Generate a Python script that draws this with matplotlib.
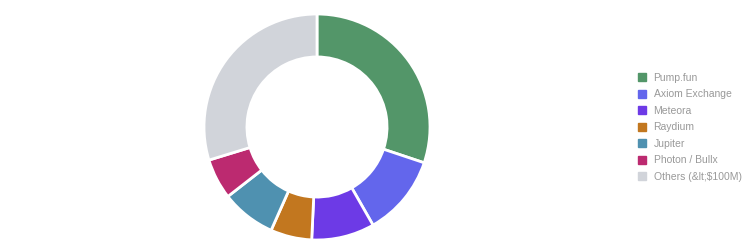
import matplotlib
matplotlib.use("Agg")
import matplotlib.pyplot as plt
from matplotlib.lines import Line2D

labels = ["Pump.fun", "Axiom Exchange", "Meteora", "Raydium", "Jupiter",
          "Photon / Bullx", "Others (&lt;$100M)"]
shares = [30.1, 11.6, 9.0, 5.9, 7.8, 5.8, 29.7]
colors = ["#539669", "#6366ec", "#6d3ae6", "#c2771f", "#4f91b0", "#bc2a70", "#d1d4da"]

plt.rcParams["font.family"] = ["Liberation Sans", "DejaVu Sans"]

fig = plt.figure(figsize=(7.52, 2.45), dpi=100)
cx, cy, r = 317, 245 - 127, 113
ax = fig.add_axes([(cx - r) / 752, (cy - r) / 245, 2 * r / 752, 2 * r / 245])
ax.pie(shares, colors=colors, startangle=90, counterclock=False, radius=1.0,
       wedgeprops=dict(width=0.38, edgecolor="white", linewidth=2))
ax.set_xlim(-1.0, 1.0)
ax.set_ylim(-1.0, 1.0)
ax.set_aspect("equal")
ax.axis("off")

handles = [Line2D([0], [0], marker="s", linestyle="", markersize=6,
                  markerfacecolor=c, markeredgecolor=c) for c in colors]
fig.legend(handles, labels, loc="upper left", bbox_to_anchor=(638 / 752, 1 - 73 / 245),
           frameon=False, fontsize=7.5, labelcolor="#999999", handlelength=0.8,
           handletextpad=0.7, labelspacing=0.62, borderpad=0, borderaxespad=0)

fig.savefig("out.png", dpi=100)
